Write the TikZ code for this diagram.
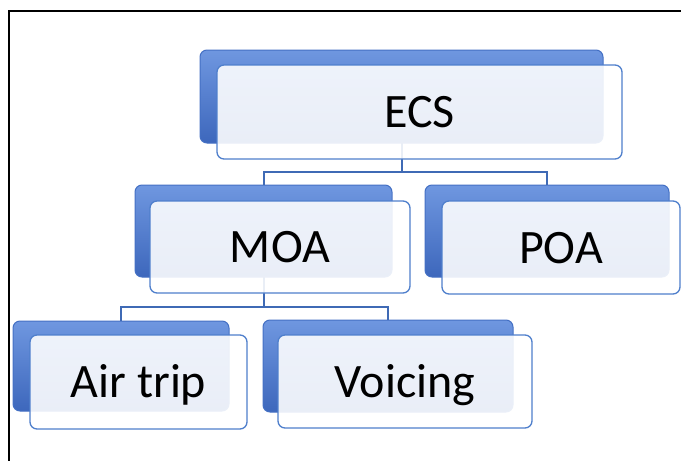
\documentclass[tikz,border=0pt]{standalone}
\usepackage{fontspec}
\setmainfont{Carlito}
\usetikzlibrary{calc}
\definecolor{blkdark}{HTML}{3D67BC}
\definecolor{blklight}{HTML}{6F97E0}
\definecolor{blkedge}{HTML}{4470C4}
\definecolor{cardedge}{HTML}{4F7FCC}
\definecolor{linkblue}{HTML}{3F6AB5}
\tikzset{
  backblk/.style={rectangle, rounded corners=7pt, inner sep=0pt, outer sep=0pt,
    top color=blklight, bottom color=blkdark, draw=blkedge, line width=1pt},
  card/.style={rectangle, rounded corners=7pt, inner sep=0pt, outer sep=0pt,
    fill=white, fill opacity=0.89, text opacity=1, draw=cardedge, line width=1.3pt,
    font=\fontsize{48}{58}\selectfont, text height=31pt, text depth=0pt},
  link/.style={draw=linkblue, line width=2pt}
}
\begin{document}
\begin{tikzpicture}[x=1pt,y=-1pt]
\useasboundingbox (0,0) rectangle (681,461);
\fill[white] (0,0) rectangle (681,461);
% page frame
\draw[line width=2pt, black] (9,461) -- (9,11) -- (681,11);

% back blocks
\node[backblk, minimum width=403pt, minimum height=93pt] (ecsb) at (401.5,96.5) {};
\node[backblk, minimum width=257pt, minimum height=92pt] (moab) at (263.5,231) {};
\node[backblk, minimum width=244pt, minimum height=92pt] (poab) at (547,231) {};
\node[backblk, minimum width=216pt, minimum height=90pt] (airb) at (121,366) {};
\node[backblk, minimum width=250pt, minimum height=92pt] (voib) at (388,366) {};

% connectors
\coordinate (j1) at (401.5,172);
\coordinate (j2) at (263.5,307);
\draw[link] (ecsb.south) -- (j1);
\draw[link] (j1) -| (moab.north);
\draw[link] (j1) -| (poab.north);
\draw[link] (moab.south) -- (j2);
\draw[link] (j2) -| (airb.north);
\draw[link] (j2) -| (voib.north);

% front cards
\node[card, minimum width=405pt, minimum height=94pt] (ecs) at (419.5,112) {ECS};
\node[card, minimum width=260pt, minimum height=92pt] (moa) at (280,247) {MOA};
\node[card, minimum width=238pt, minimum height=93pt] (poa) at (561,247.5) {POA};
\node[card, minimum width=217pt, minimum height=94pt] (air) at (138.5,382) {Air trip};
\node[card, minimum width=254pt, minimum height=93pt] (voi) at (405,381.5) {Voicing};
\end{tikzpicture}
\end{document}
